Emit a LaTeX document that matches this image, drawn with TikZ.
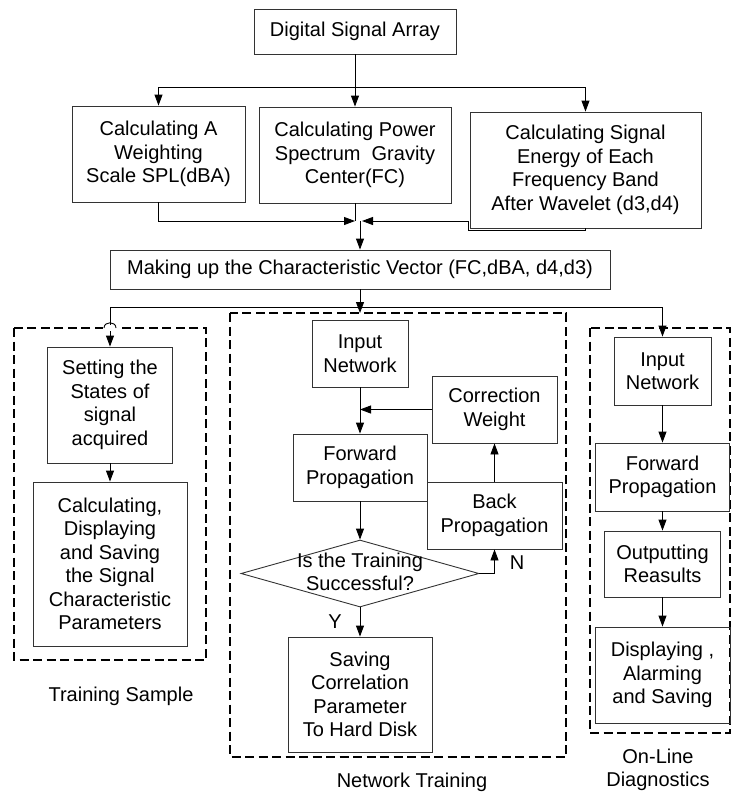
\documentclass[tikz,border=0pt]{standalone}
\usepackage{fontspec}
\setmainfont{Liberation Sans}
\usetikzlibrary{arrows.meta,shapes.geometric}
\begin{document}
\begin{tikzpicture}[x=1pt,y=-1pt,
  font=\fontsize{20}{23.5}\selectfont,
  box/.style={draw=black!80,line width=0.9pt,align=center,inner sep=0pt},
  lbl/.style={align=center,inner sep=0pt},
  arr/.style={line width=0.9pt,-{Triangle[length=11pt,width=8pt]}},
  group/.style={line width=2.8pt,dash pattern=on 9pt off 4.5pt}]
\useasboundingbox (0,0) rectangle (733,793);

\node[box,minimum width=202pt,minimum height=45pt] (digital) at (355,31.5) {Digital Signal Array};
\node[box,minimum width=173pt,minimum height=96pt] (wgt) at (158.5,154) {Calculating A\\Weighting\\Scale SPL(dBA)};
\node[box,minimum width=192pt,minimum height=96pt] (psg) at (355,155) {Calculating Power\\Spectrum\ \ Gravity\\Center(FC)};
\node[box,minimum width=231pt,minimum height=116pt] (energy) at (585.5,170) {Calculating Signal\\Energy of Each\\Frequency Band\\After Wavelet (d3,d4)};
\node[box,minimum width=500pt,minimum height=39pt] (vector) at (360,269.5) {Making up the Characteristic Vector (FC,dBA, d4,d3)};

\coordinate (split) at (355,87);
\coordinate (merge) at (360,221);
\coordinate (bus) at (360,307);
\coordinate (nttop) at (360,313);

\draw[arr] (digital) -- (psg);
\draw[arr] (split) -| (wgt.north);
\draw[arr] (split) -| (energy.north);
\draw[arr] (wgt.south) |- ([xshift=-5pt]merge);
\draw[line width=0.9pt] (psg.south) -- (psg.south |- merge);
\draw[arr] (energy.south) -- ++(0,2) -| ([xshift=108pt]merge) -- ([xshift=2pt]merge);
\draw[arr] (merge) -- (vector);

% groups
\draw[group] (14,328) rectangle (206,660);
\draw[group] (230,313) rectangle (566,757);
\draw[group] (590,328) rectangle (730,733);

% training sample
\node[box,minimum width=125pt,minimum height=116pt] (set) at (110,405) {Setting the\\States of\\signal\\acquired};
\node[box,minimum width=154pt,minimum height=164pt] (calc) at (110,564) {Calculating,\\Displaying\\and Saving\\the Signal\\Characteristic\\Parameters};
\node[lbl] (tslabel) at (121,696) {Training Sample};

% network training
\node[box,minimum width=96pt,minimum height=67pt] (input1) at (360,353.5) {Input\\Network};
\node[box,minimum width=125pt,minimum height=67pt] (corr) at (494.5,409.5) {Correction\\Weight};
\node[box,minimum width=134pt,minimum height=67pt] (fwd1) at (360,467.5) {Forward\\Propagation};
\node[box,minimum width=135pt,minimum height=67pt] (back) at (494.5,515.5) {Back\\Propagation};
\node[diamond,draw=black!80,line width=0.9pt,minimum width=238pt,minimum height=67pt,inner sep=0pt] (dec) at (360,573.5) {};
\node[lbl] (dectext) at (360,572) {Is the Training\\Successful?};
\node[box,minimum width=144pt,minimum height=115pt] (save) at (360,694.5) {Saving\\Correlation\\Parameter\\To Hard Disk};
\node[lbl] (nlabel) at (517,563) {N};
\node[lbl] (ylabel) at (335,622) {Y};
\node[lbl] (ntlabel) at (412,782) {Network Training};

% on-line diagnostics
\node[box,minimum width=97pt,minimum height=68pt] (input2) at (662.5,371) {Input\\Network};
\node[box,minimum width=134pt,minimum height=68pt] (fwd2) at (662.5,477) {Forward\\Propagation};
\node[box,minimum width=116pt,minimum height=66pt] (out) at (662.5,564) {Outputting\\Reasults};
\node[box,minimum width=135pt,minimum height=96pt] (disp) at (662.5,675) {Displaying ,\\Alarming\\and Saving};
\node[lbl] (ollabel) at (658,770) {On-Line\\Diagnostics};

\draw[arr] (vector) -- (nttop);
\draw[arr] (bus) -| (set.north);
\draw[arr] (bus) -| (input2.north);
\fill[white] (103,325) rectangle (117,331);
\draw[line width=0.9pt] (104,328) .. controls (104,321) and (116,321) .. (116,328);

\draw[arr] (set) -- (calc);

\draw[arr] (input1) -- (fwd1);
\draw[arr] (corr.west) -- (corr.west -| input1.south);
\draw[arr] (fwd1) -- (dec.north);
\draw[arr] (dec.east) -| (back.south);
\draw[arr] (back) -- (corr);
\draw[arr] (dec.south) -- (save);

\draw[arr] (input2) -- (fwd2);
\draw[arr] (fwd2) -- (out);
\draw[arr] (out) -- (disp);
\end{tikzpicture}
\end{document}
